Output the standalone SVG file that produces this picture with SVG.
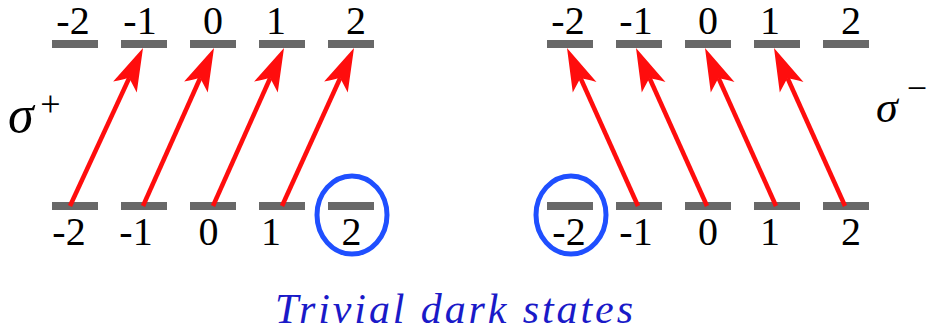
<svg xmlns="http://www.w3.org/2000/svg" width="927" height="334" viewBox="0 0 927 334">
<defs>
<path id="head" d="M0,0 L-43,-13 Q-36,-4 -33,0 Q-36,4 -43,13 Z" fill="#ff0d0d"/>
</defs>
<g id="left-top-levels" fill="#686868">
<rect x="52" y="40" width="46" height="8"/>
<rect x="121" y="40" width="46" height="8"/>
<rect x="190" y="40" width="46" height="8"/>
<rect x="259" y="40" width="46" height="8"/>
<rect x="328" y="40" width="46" height="8"/>
</g>
<g id="left-top-labels" font-family="Liberation Serif" font-size="40" fill="#000" text-anchor="middle">
<text x="73" y="34">-2</text>
<text x="140" y="34">-1</text>
<text x="213" y="34">0</text>
<text x="276" y="34">1</text>
<text x="356" y="34">2</text>
</g>
<g id="left-bottom-levels" fill="#686868">
<rect x="52" y="202" width="46" height="8"/>
<rect x="121" y="202" width="46" height="8"/>
<rect x="190" y="202" width="46" height="8"/>
<rect x="259" y="202" width="46" height="8"/>
<rect x="328" y="202" width="46" height="8"/>
</g>
<g id="left-bottom-labels" font-family="Liberation Serif" font-size="40" fill="#000" text-anchor="middle">
<text x="69" y="245">-2</text>
<text x="136" y="245">-1</text>
<text x="208.5" y="245">0</text>
<text x="271" y="245">1</text>
<text x="351.5" y="245">2</text>
</g>
<g id="right-top-levels" fill="#686868">
<rect x="547" y="40" width="46" height="8"/>
<rect x="616" y="40" width="46" height="8"/>
<rect x="685" y="40" width="46" height="8"/>
<rect x="754" y="40" width="46" height="8"/>
<rect x="823" y="40" width="46" height="8"/>
</g>
<g id="right-top-labels" font-family="Liberation Serif" font-size="40" fill="#000" text-anchor="middle">
<text x="568" y="34">-2</text>
<text x="636" y="34">-1</text>
<text x="708" y="34">0</text>
<text x="770" y="34">1</text>
<text x="851" y="34">2</text>
</g>
<g id="right-bottom-levels" fill="#686868">
<rect x="547" y="202" width="46" height="8"/>
<rect x="616" y="202" width="46" height="8"/>
<rect x="685" y="202" width="46" height="8"/>
<rect x="754" y="202" width="46" height="8"/>
<rect x="823" y="202" width="46" height="8"/>
</g>
<g id="right-bottom-labels" font-family="Liberation Serif" font-size="40" fill="#000" text-anchor="middle">
<text x="569" y="245">-2</text>
<text x="636" y="245">-1</text>
<text x="708" y="245">0</text>
<text x="770" y="245">1</text>
<text x="851" y="245">2</text>
</g>
<g id="connectors">
<g stroke="#ff0d0d" stroke-width="4.5" fill="none">
<line x1="70" y1="206" x2="129.2" y2="78"/>
<line x1="143" y1="206" x2="200.2" y2="78"/>
<line x1="213" y1="206" x2="270.2" y2="78"/>
<line x1="282" y1="206" x2="340.2" y2="78"/>
<line x1="638" y1="206" x2="580.5" y2="78"/>
<line x1="707" y1="206" x2="649.5" y2="78"/>
<line x1="776" y1="206" x2="718.5" y2="78"/>
<line x1="845" y1="206" x2="787.5" y2="78"/>
</g>
<use href="#head" transform="translate(143,48) rotate(-65.2)"/>
<use href="#head" transform="translate(214,48) rotate(-65.2)"/>
<use href="#head" transform="translate(284,48) rotate(-65.2)"/>
<use href="#head" transform="translate(354,48) rotate(-65.2)"/>
<use href="#head" transform="translate(567,48) rotate(-114.2)"/>
<use href="#head" transform="translate(636,48) rotate(-114.2)"/>
<use href="#head" transform="translate(705,48) rotate(-114.2)"/>
<use href="#head" transform="translate(774,48) rotate(-114.2)"/>
</g>
<g id="sigma-plus" font-family="Liberation Serif" fill="#000">
<text x="8" y="132" font-size="52" font-style="italic">σ</text>
<text x="50.5" y="116" font-size="36" text-anchor="middle">+</text>
</g>
<g id="sigma-minus" font-family="Liberation Serif" fill="#000">
<text x="876" y="122" font-size="44" font-style="italic">σ</text>
<text x="917" y="100" font-size="36" text-anchor="middle">−</text>
</g>
<g id="dark-state-left" fill="none" stroke="#1f4fff" stroke-width="5">
<ellipse cx="352" cy="215" rx="35" ry="39"/>
</g>
<g id="dark-state-right" fill="none" stroke="#1f4fff" stroke-width="5">
<ellipse cx="571" cy="215" rx="35" ry="39"/>
</g>
<g id="caption">
<text font-family="Liberation Serif" font-style="italic" font-size="42" fill="#1a1ac8" x="275" y="323" textLength="358" lengthAdjust="spacing">Trivial dark states</text>
</g>
</svg>
